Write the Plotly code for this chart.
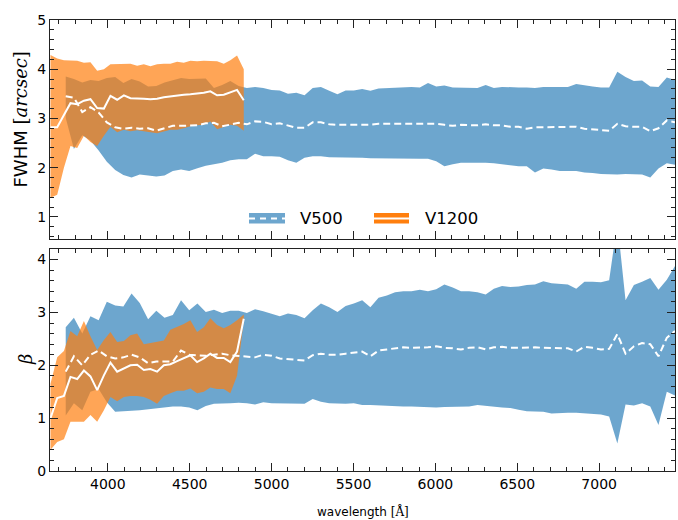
import plotly.graph_objects as go

# ---------------- data ----------------
wl_v500 = [3743, 3793, 3844, 3894, 3944, 3994, 4045, 4095, 4145, 4195,
           4246, 4296, 4346, 4397, 4447, 4497, 4547, 4598, 4648, 4698,
           4748, 4799, 4849, 4899, 4949, 5000, 5050, 5100, 5151, 5201,
           5251, 5301, 5352, 5402, 5452, 5502, 5553, 5603, 5653, 5704,
           5754, 5804, 5854, 5905, 5955, 6005, 6055, 6106, 6156, 6206,
           6257, 6307, 6357, 6407, 6458, 6508, 6558, 6608, 6659, 6709,
           6759, 6809, 6860, 6910, 6960, 7011, 7061, 7111, 7161, 7212,
           7262, 7312, 7362, 7413, 7463]

fwhm_v500_med = [3.45, 3.42, 3.13, 3.23, 3.12, 2.92, 2.82, 2.79, 2.81, 2.79,
                 2.80, 2.75, 2.80, 2.85, 2.85, 2.85, 2.86, 2.90, 2.91, 2.84,
                 2.88, 2.91, 2.88, 2.94, 2.93, 2.88, 2.90, 2.85, 2.81, 2.81,
                 2.92, 2.92, 2.88, 2.87, 2.87, 2.87, 2.88, 2.87, 2.89, 2.89,
                 2.89, 2.89, 2.89, 2.90, 2.90, 2.89, 2.87, 2.85, 2.87, 2.87,
                 2.86, 2.88, 2.86, 2.86, 2.83, 2.83, 2.79, 2.82, 2.82, 2.82,
                 2.82, 2.82, 2.83, 2.79, 2.78, 2.76, 2.75, 2.89, 2.84, 2.83,
                 2.83, 2.74, 2.80, 2.96, 2.92]
fwhm_v500_up = [3.85, 3.80, 3.73, 3.78, 3.76, 3.82, 3.84, 3.72, 3.80, 3.75,
                3.65, 3.66, 3.73, 3.78, 3.82, 3.80, 3.80, 3.81, 3.62, 3.68,
                3.76, 3.66, 3.62, 3.64, 3.62, 3.58, 3.57, 3.50, 3.52, 3.47,
                3.62, 3.64, 3.56, 3.49, 3.57, 3.57, 3.60, 3.56, 3.61, 3.62,
                3.63, 3.63, 3.64, 3.63, 3.72, 3.65, 3.67, 3.63, 3.63, 3.62,
                3.62, 3.68, 3.62, 3.64, 3.63, 3.63, 3.63, 3.62, 3.64, 3.64,
                3.64, 3.64, 3.70, 3.67, 3.65, 3.63, 3.63, 3.95, 3.84, 3.76,
                3.77, 3.65, 3.64, 3.83, 3.78]
fwhm_v500_lo = [3.01, 2.38, 2.66, 2.55, 2.35, 2.12, 1.95, 1.85, 1.80, 1.86,
                1.84, 1.82, 1.84, 1.93, 1.96, 1.93, 1.99, 2.04, 2.07, 2.10,
                2.15, 2.17, 2.17, 2.28, 2.23, 2.23, 2.22, 2.15, 2.10, 2.20,
                2.23, 2.23, 2.21, 2.20, 2.21, 2.20, 2.20, 2.19, 2.19, 2.19,
                2.18, 2.18, 2.18, 2.18, 2.18, 2.13, 2.03, 2.07, 2.10, 2.11,
                2.10, 2.10, 2.09, 2.08, 2.05, 2.03, 2.03, 1.90, 1.98, 1.96,
                1.93, 1.93, 1.93, 1.90, 1.89, 1.87, 1.86, 1.86, 1.87, 1.87,
                1.86, 1.80, 1.98, 2.09, 2.06]

beta_v500_med = [1.88, 2.17, 2.00, 2.20, 2.28, 2.17, 2.13, 2.15, 2.20, 2.15,
                 2.04, 2.07, 2.07, 2.07, 2.28, 2.20, 2.19, 2.18, 2.20, 2.22,
                 2.19, 2.18, 2.17, 2.15, 2.20, 2.18, 2.13, 2.12, 2.10, 2.09,
                 2.19, 2.22, 2.20, 2.20, 2.22, 2.24, 2.26, 2.17, 2.28, 2.30,
                 2.32, 2.34, 2.33, 2.33, 2.34, 2.36, 2.33, 2.32, 2.30, 2.33,
                 2.34, 2.30, 2.34, 2.35, 2.33, 2.33, 2.34, 2.34, 2.33, 2.33,
                 2.32, 2.32, 2.26, 2.35, 2.33, 2.30, 2.31, 2.59, 2.22, 2.36,
                 2.42, 2.40, 2.17, 2.52, 2.65]
beta_v500_up = [2.72, 2.90, 2.60, 2.93, 2.85, 3.20, 3.13, 3.11, 3.36, 3.18,
                2.87, 3.03, 2.90, 2.95, 3.23, 3.04, 3.17, 3.01, 3.05, 2.99,
                3.03, 3.03, 2.99, 3.06, 3.02, 2.97, 2.93, 2.98, 2.95, 2.89,
                3.04, 3.17, 3.10, 3.01, 3.12, 3.17, 3.23, 3.10, 3.28, 3.32,
                3.38, 3.40, 3.40, 3.43, 3.40, 3.44, 3.53, 3.47, 3.40, 3.40,
                3.38, 3.34, 3.45, 3.50, 3.48, 3.49, 3.52, 3.53, 3.59, 3.55,
                3.54, 3.53, 3.45, 3.58, 3.58, 3.57, 3.61, 4.70, 3.23, 3.52,
                3.58, 3.65, 3.43, 3.62, 3.88]
beta_v500_lo = [1.05, 1.28, 1.15, 1.50, 1.55, 1.30, 1.12, 1.13, 1.14, 1.15,
                1.17, 1.18, 1.20, 1.22, 1.22, 1.20, 1.15, 1.23, 1.27, 1.27,
                1.28, 1.29, 1.28, 1.26, 1.30, 1.28, 1.28, 1.28, 1.27, 1.27,
                1.36, 1.31, 1.28, 1.27, 1.27, 1.28, 1.25, 1.25, 1.25, 1.24,
                1.23, 1.22, 1.22, 1.22, 1.21, 1.20, 1.21, 1.22, 1.22, 1.22,
                1.25, 1.24, 1.22, 1.20, 1.19, 1.16, 1.13, 1.12, 1.12, 1.09,
                1.10, 1.10, 1.10, 1.10, 1.08, 1.07, 1.03, 0.52, 1.26, 1.24,
                1.28, 1.22, 0.87, 1.50, 1.43]

wl_v1200 = [3650, 3691, 3732, 3772, 3813, 3854, 3894, 3935, 3976, 4016,
            4057, 4098, 4138, 4179, 4220, 4260, 4301, 4342, 4382, 4423,
            4464, 4504, 4545, 4586, 4626, 4667, 4708, 4748, 4789, 4830]

fwhm_v1200_med = [2.82, 2.82, 3.07, 3.31, 3.29, 3.36, 3.39, 3.21, 3.20, 3.46,
                  3.38, 3.47, 3.41, 3.41, 3.40, 3.39, 3.40, 3.43, 3.45, 3.46,
                  3.48, 3.49, 3.50, 3.52, 3.55, 3.47, 3.48, 3.53, 3.58, 3.37]
fwhm_v1200_up = [4.29, 4.22, 4.18, 4.18, 4.17, 4.13, 4.14, 3.97, 4.00, 4.10,
                 4.10, 4.11, 4.11, 4.07, 4.10, 4.06, 4.10, 4.11, 4.11, 4.15,
                 4.13, 4.17, 4.16, 4.17, 4.16, 4.16, 4.11, 4.18, 4.28, 4.00]
fwhm_v1200_lo = [1.39, 1.45, 2.00, 2.44, 2.40, 2.65, 2.52, 2.44, 2.65, 2.83,
                 2.72, 2.77, 2.74, 2.76, 2.74, 2.72, 2.70, 2.74, 2.77, 2.77,
                 2.80, 2.84, 2.86, 2.87, 2.94, 2.78, 2.82, 2.87, 2.85, 2.75]

beta_v1200_med = [1.00, 1.38, 1.42, 1.78, 1.74, 1.90, 1.79, 1.53, 1.81, 2.05,
                  1.88, 1.94, 2.00, 2.01, 1.91, 1.93, 1.88, 2.00, 2.02, 2.08,
                  2.13, 2.19, 2.06, 2.13, 2.22, 2.14, 2.14, 2.06, 2.26, 2.88]
beta_v1200_up = [1.65, 2.15, 2.27, 2.65, 2.55, 2.84, 2.55, 2.29, 2.48, 2.63,
                 2.44, 2.46, 2.57, 2.60, 2.40, 2.42, 2.45, 2.47, 2.67, 2.72,
                 2.78, 2.85, 2.63, 2.72, 2.89, 2.76, 2.70, 2.76, 2.85, 2.96]
beta_v1200_lo = [0.40, 0.55, 0.60, 0.93, 0.93, 0.93, 1.06, 0.93, 1.15, 1.40,
                 1.32, 1.40, 1.42, 1.42, 1.40, 1.35, 1.27, 1.42, 1.47, 1.52,
                 1.52, 1.56, 1.47, 1.50, 1.58, 1.55, 1.55, 1.47, 1.80, 2.85]

x_ticks = [4000, 4500, 5000, 5500, 6000, 6500, 7000]
legend_labels = ["V500", "V1200"]

# ---------------- style ----------------
BLUE_FILL = "rgba(31,119,180,0.65)"
ORANGE_FILL = "rgba(255,127,14,0.7)"
FRAME = "#222222"
DASH = "7px,4px"

W, H = 678, 520
ML, MR, MT, MB = 50, 3, 20, 49
PW, PH = W - ML - MR, H - MT - MB


def px(x):
    return (x - ML) / PW


def py(y):
    return (H - MB - y) / PH


fig = go.Figure()


def band(wl, up, lo, color, xa, ya):
    fig.add_trace(go.Scatter(
        x=list(wl) + list(wl)[::-1], y=list(up) + list(lo)[::-1],
        fill="toself", fillcolor=color, mode="lines", line=dict(width=0),
        hoverinfo="skip", xaxis=xa, yaxis=ya))


def med(wl, vals, dash, xa, ya):
    fig.add_trace(go.Scatter(
        x=wl, y=vals, mode="lines",
        line=dict(color="white", width=2, dash=dash),
        hoverinfo="skip", xaxis=xa, yaxis=ya))


# top panel: FWHM
band(wl_v500, fwhm_v500_up, fwhm_v500_lo, BLUE_FILL, "x2", "y2")
band(wl_v1200, fwhm_v1200_up, fwhm_v1200_lo, ORANGE_FILL, "x2", "y2")
med(wl_v500, fwhm_v500_med, DASH, "x2", "y2")
med(wl_v1200, fwhm_v1200_med, "solid", "x2", "y2")

# bottom panel: beta
band(wl_v500, beta_v500_up, beta_v500_lo, BLUE_FILL, "x", "y")
band(wl_v1200, beta_v1200_up, beta_v1200_lo, ORANGE_FILL, "x", "y")
med(wl_v500, beta_v500_med, DASH, "x", "y")
med(wl_v1200, beta_v1200_med, "solid", "x", "y")

xrange_ = [wl_v1200[0] - 3, wl_v500[-1]]

common = dict(showline=True, linecolor=FRAME, linewidth=1, mirror="allticks",
              ticks="inside", ticklen=8, tickwidth=1, tickcolor=FRAME,
              showgrid=False, zeroline=False,
              tickfont=dict(family="DejaVu Sans", size=14, color="black"))

fig.update_layout(
    width=W, height=H,
    margin=dict(l=ML, r=MR, t=MT, b=MB),
    plot_bgcolor="white", paper_bgcolor="white",
    showlegend=False,
    font=dict(family="DejaVu Sans", color="black"),
    xaxis=dict(range=xrange_, tickvals=x_ticks, anchor="y",
               minor=dict(dtick=100, tick0=0, ticks="inside", ticklen=4,
                          tickcolor=FRAME), **common),
    xaxis2=dict(range=xrange_, tickvals=x_ticks, anchor="y2",
                showticklabels=False, matches="x",
                minor=dict(dtick=100, tick0=0, ticks="inside", ticklen=4,
                           tickcolor=FRAME), **common),
    yaxis=dict(range=[0, 4.2], dtick=1, tick0=0, domain=[0, py(249)],
               anchor="x",
               minor=dict(dtick=0.2, tick0=0, ticks="inside", ticklen=4,
                          tickcolor=FRAME), **common),
    yaxis2=dict(range=[0.55, 5], dtick=1, tick0=0, domain=[py(239), 1],
                anchor="x2",
                minor=dict(dtick=0.2, tick0=0, ticks="inside", ticklen=4,
                           tickcolor=FRAME), **common),
)

annotations = [
    dict(text="FWHM <span style='font-family:DejaVu Serif'>[<i>arcsec</i>]</span>",
         x=px(20), y=py(119.5), textangle=-90, font=dict(size=18)),
    dict(text="<span style='font-family:DejaVu Serif'><i>β</i></span>",
         x=px(25), y=py(360), textangle=-90, font=dict(size=18)),
    dict(text="wavelength <span style='font-family:DejaVu Serif'>[Å]</span>",
         x=px(362.5), y=py(511), font=dict(size=12)),
    dict(text=legend_labels[0], x=px(298), y=py(218.5), xanchor="left",
         font=dict(size=16.5)),
    dict(text=legend_labels[1], x=px(422.7), y=py(218.5), xanchor="left",
         font=dict(size=16.5)),
]
for a in annotations:
    a.setdefault("xanchor", "center")
    a.update(xref="paper", yref="paper", yanchor="middle", showarrow=False)
fig.update_layout(annotations=annotations)

shapes = [
    dict(type="rect", x0=px(249), x1=px(285), y0=py(223.5), y1=py(213),
         fillcolor=BLUE_FILL, line=dict(width=0)),
    dict(type="line", x0=px(249), x1=px(285), y0=py(218.5), y1=py(218.5),
         line=dict(color="white", width=2, dash="6px,5px")),
    dict(type="rect", x0=px(374), x1=px(409), y0=py(223.5), y1=py(213),
         fillcolor="#ff7f0e", line=dict(width=0)),
    dict(type="line", x0=px(374), x1=px(409), y0=py(218.5), y1=py(218.5),
         line=dict(color="white", width=2)),
]
for s in shapes:
    s.update(xref="paper", yref="paper")
fig.update_layout(shapes=shapes)

fig.write_html("out.html")
